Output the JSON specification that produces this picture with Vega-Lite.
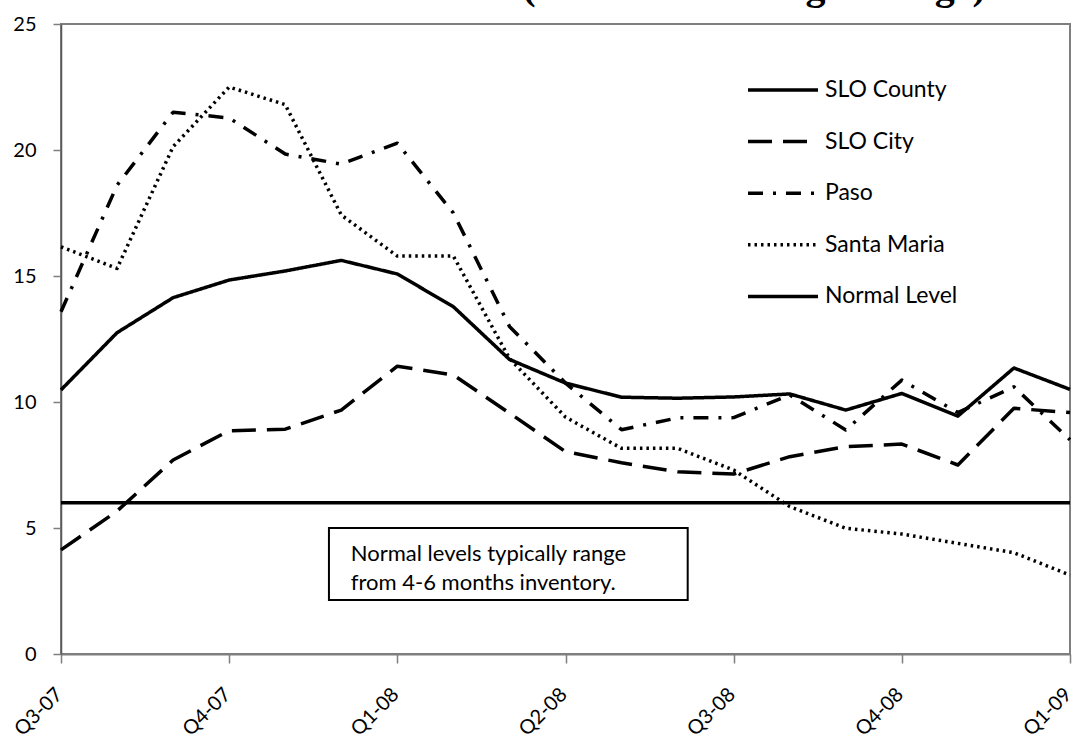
{
  "$schema": "https://vega.github.io/schema/vega-lite/v6.json",
  "width": 1009,
  "height": 630,
  "autosize": {"type": "none"},
  "padding": {"left": 61, "top": 24, "right": 5, "bottom": 89},
  "background": "white",
  "config": {
    "font": "Lato",
    "view": {"stroke": "#7f7f7f", "strokeWidth": 2},
    "axis": {"grid": false, "labelColor": "black", "labelFont": "Lato", "tickColor": "#7f7f7f", "domainColor": "#7f7f7f"}
  },
  "datasets": {
    "series": [
      {"m": 0, "series": "SLO County", "value": 10.48}, {"m": 1, "series": "SLO County", "value": 12.75}, {"m": 2, "series": "SLO County", "value": 14.14}, {"m": 3, "series": "SLO County", "value": 14.84}, {"m": 4, "series": "SLO County", "value": 15.2}, {"m": 5, "series": "SLO County", "value": 15.62}, {"m": 6, "series": "SLO County", "value": 15.08}, {"m": 7, "series": "SLO County", "value": 13.78}, {"m": 8, "series": "SLO County", "value": 11.69}, {"m": 9, "series": "SLO County", "value": 10.75}, {"m": 10, "series": "SLO County", "value": 10.19}, {"m": 11, "series": "SLO County", "value": 10.15}, {"m": 12, "series": "SLO County", "value": 10.2}, {"m": 13, "series": "SLO County", "value": 10.32}, {"m": 14, "series": "SLO County", "value": 9.68}, {"m": 15, "series": "SLO County", "value": 10.34}, {"m": 16, "series": "SLO County", "value": 9.44}, {"m": 17, "series": "SLO County", "value": 11.35}, {"m": 18, "series": "SLO County", "value": 10.5},
      {"m": 0, "series": "SLO City", "value": 4.13}, {"m": 1, "series": "SLO City", "value": 5.67}, {"m": 2, "series": "SLO City", "value": 7.7}, {"m": 3, "series": "SLO City", "value": 8.86}, {"m": 4, "series": "SLO City", "value": 8.92}, {"m": 5, "series": "SLO City", "value": 9.68}, {"m": 6, "series": "SLO City", "value": 11.42}, {"m": 7, "series": "SLO City", "value": 11.07}, {"m": 8, "series": "SLO City", "value": 9.56}, {"m": 9, "series": "SLO City", "value": 8.03}, {"m": 10, "series": "SLO City", "value": 7.59}, {"m": 11, "series": "SLO City", "value": 7.23}, {"m": 12, "series": "SLO City", "value": 7.14}, {"m": 13, "series": "SLO City", "value": 7.83}, {"m": 14, "series": "SLO City", "value": 8.23}, {"m": 15, "series": "SLO City", "value": 8.33}, {"m": 16, "series": "SLO City", "value": 7.5}, {"m": 17, "series": "SLO City", "value": 9.75}, {"m": 18, "series": "SLO City", "value": 9.58},
      {"m": 0, "series": "Paso", "value": 13.58}, {"m": 1, "series": "Paso", "value": 18.6}, {"m": 2, "series": "Paso", "value": 21.5}, {"m": 3, "series": "Paso", "value": 21.27}, {"m": 4, "series": "Paso", "value": 19.84}, {"m": 5, "series": "Paso", "value": 19.44}, {"m": 6, "series": "Paso", "value": 20.27}, {"m": 7, "series": "Paso", "value": 17.5}, {"m": 8, "series": "Paso", "value": 13.0}, {"m": 9, "series": "Paso", "value": 10.75}, {"m": 10, "series": "Paso", "value": 8.9}, {"m": 11, "series": "Paso", "value": 9.37}, {"m": 12, "series": "Paso", "value": 9.38}, {"m": 13, "series": "Paso", "value": 10.28}, {"m": 14, "series": "Paso", "value": 8.89}, {"m": 15, "series": "Paso", "value": 10.87}, {"m": 16, "series": "Paso", "value": 9.58}, {"m": 17, "series": "Paso", "value": 10.6}, {"m": 18, "series": "Paso", "value": 8.5},
      {"m": 0, "series": "Santa Maria", "value": 16.16}, {"m": 1, "series": "Santa Maria", "value": 15.3}, {"m": 2, "series": "Santa Maria", "value": 20.13}, {"m": 3, "series": "Santa Maria", "value": 22.5}, {"m": 4, "series": "Santa Maria", "value": 21.8}, {"m": 5, "series": "Santa Maria", "value": 17.42}, {"m": 6, "series": "Santa Maria", "value": 15.79}, {"m": 7, "series": "Santa Maria", "value": 15.79}, {"m": 8, "series": "Santa Maria", "value": 11.73}, {"m": 9, "series": "Santa Maria", "value": 9.4}, {"m": 10, "series": "Santa Maria", "value": 8.16}, {"m": 11, "series": "Santa Maria", "value": 8.16}, {"m": 12, "series": "Santa Maria", "value": 7.3}, {"m": 13, "series": "Santa Maria", "value": 5.85}, {"m": 14, "series": "Santa Maria", "value": 4.99}, {"m": 15, "series": "Santa Maria", "value": 4.76}, {"m": 16, "series": "Santa Maria", "value": 4.39}, {"m": 17, "series": "Santa Maria", "value": 4.02}, {"m": 18, "series": "Santa Maria", "value": 3.13},
      {"m": 0, "series": "Normal Level", "value": 6}, {"m": 1, "series": "Normal Level", "value": 6}, {"m": 2, "series": "Normal Level", "value": 6}, {"m": 3, "series": "Normal Level", "value": 6}, {"m": 4, "series": "Normal Level", "value": 6}, {"m": 5, "series": "Normal Level", "value": 6}, {"m": 6, "series": "Normal Level", "value": 6}, {"m": 7, "series": "Normal Level", "value": 6}, {"m": 8, "series": "Normal Level", "value": 6}, {"m": 9, "series": "Normal Level", "value": 6}, {"m": 10, "series": "Normal Level", "value": 6}, {"m": 11, "series": "Normal Level", "value": 6}, {"m": 12, "series": "Normal Level", "value": 6}, {"m": 13, "series": "Normal Level", "value": 6}, {"m": 14, "series": "Normal Level", "value": 6}, {"m": 15, "series": "Normal Level", "value": 6}, {"m": 16, "series": "Normal Level", "value": 6}, {"m": 17, "series": "Normal Level", "value": 6}, {"m": 18, "series": "Normal Level", "value": 6}
    ]
  },
  "layer": [
    {
      "data": {"name": "series"},
      "mark": {"type": "line", "color": "black", "strokeJoin": "round"},
      "encoding": {
        "x": {
          "field": "m", "type": "quantitative",
          "scale": {"domain": [0, 18], "nice": false, "zero": false},
          "axis": {
            "title": null, "values": [0, 3, 6, 9, 12, 15, 18],
            "labelExpr": "['Q3-07','Q4-07','Q1-08','Q2-08','Q3-08','Q4-08','Q1-09'][round(datum.value/3)]",
            "labelAngle": -45, "labelAlign": "right", "labelBaseline": "middle",
            "labelFontSize": 20, "labelPadding": 28, "labelOffset": -2, "tickSize": 9, "tickWidth": 1.5,
            "domainWidth": 2, "labelFlush": false, "labelOverlap": false, "labelBound": false
          }
        },
        "y": {
          "field": "value", "type": "quantitative",
          "scale": {"domain": [0, 25], "nice": false},
          "axis": {
            "title": null, "values": [0, 5, 10, 15, 20, 25],
            "labelFontSize": 20, "labelPadding": 17, "tickSize": 8, "tickWidth": 1.5,
            "domainWidth": 1.5, "domainColor": "#595959", "labelFlush": false, "labelOverlap": false
          }
        },
        "strokeDash": {
          "field": "series", "type": "nominal",
          "scale": {
            "domain": ["SLO County", "SLO City", "Paso", "Santa Maria", "Normal Level"],
            "range": [[1, 0], [24, 11], [15, 10, 3, 10], [2.5, 4], [1, 0]]
          },
          "legend": {
            "title": null, "orient": "none", "legendX": 685, "legendY": 52,
            "symbolType": "stroke", "symbolSize": 4900, "clipHeight": 28,
            "labelFontSize": 23, "labelColor": "black", "labelOffset": 5, "rowPadding": 23.6,
            "symbolStrokeColor": "black"
          }
        },
        "strokeWidth": {
          "field": "series", "type": "nominal",
          "scale": {
            "domain": ["SLO County", "SLO City", "Paso", "Santa Maria", "Normal Level"],
            "range": [3.5, 3.5, 3.5, 2.5, 2]
          },
          "legend": {
            "title": null, "orient": "none", "legendX": 685, "legendY": 52,
            "symbolType": "stroke", "symbolSize": 4900, "clipHeight": 28,
            "labelFontSize": 23, "labelColor": "black", "labelOffset": 5, "rowPadding": 23.6,
            "symbolStrokeColor": "black"
          }
        }
      }
    },
    {
      "data": {"values": [{}]},
      "mark": {"type": "rect", "fill": "white", "stroke": "black", "strokeWidth": 2},
      "encoding": {
        "x": {"datum": 4.78}, "x2": {"datum": 11.18},
        "y": {"datum": 5.0}, "y2": {"datum": 2.14}
      }
    },
    {
      "data": {"values": [{}]},
      "mark": {"type": "text", "align": "left", "baseline": "alphabetic", "fontSize": 22, "lineHeight": 29, "font": "Lato", "color": "black"},
      "encoding": {
        "x": {"datum": 5.17}, "y": {"datum": 3.7},
        "text": {"value": ["Normal levels typically range", "from 4-6 months inventory."]}
      }
    },
    {
      "data": {"values": [{}]},
      "mark": {"type": "text", "align": "right", "baseline": "alphabetic", "fontSize": 40, "font": "Liberation Serif", "fontWeight": "bold", "color": "black", "clip": false},
      "encoding": {
        "x": {"datum": 16.5}, "y": {"datum": 26.0},
        "text": {"value": "(3-Month Moving Average)"}
      }
    }
  ]
}
